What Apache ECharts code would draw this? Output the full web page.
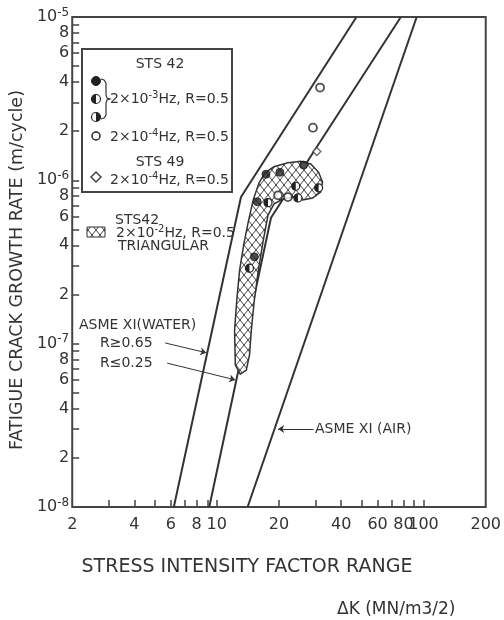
<!DOCTYPE html>
<html>
<head>
<meta charset="utf-8">
<script src="https://cdn.jsdelivr.net/npm/echarts@6/dist/echarts.min.js"></script>
<style>
html,body{margin:0;padding:0;background:#fff;}
#main{width:504px;height:620px;}
</style>
</head>
<body>
<div id="main"></div>
<script>
// axis ticks / labels (dK in MN/m^3/2, da/dN in m/cycle)
var xTicks = [3, 4, 5, 6, 7, 8, 9, 10, 20, 30, 40, 50, 60, 70, 80, 90, 100];
var xLabels = [2, 4, 6, 8, 10, 20, 40, 60, 80, 100, 200];
var yTicks = [2e-8, 3e-8, 4e-8, 5e-8, 6e-8, 7e-8, 8e-8, 9e-8, 1e-7,
              2e-7, 3e-7, 4e-7, 5e-7, 6e-7, 7e-7, 8e-7, 9e-7, 1e-6,
              2e-6, 3e-6, 4e-6, 5e-6, 6e-6, 7e-6, 8e-6, 9e-6];
var yLabels = [1e-8, 2e-8, 4e-8, 6e-8, 8e-8, 1e-7, 2e-7, 4e-7, 6e-7, 8e-7,
               1e-6, 2e-6, 4e-6, 6e-6, 8e-6, 1e-5];

// ASME XI reference curves
var asmeWaterHigh = [[6.2, 1e-8], [13.1, 7.9e-7], [47.4, 1e-5]];   // R >= 0.65
var asmeWaterLow = [[9.2, 1e-8], [18.3, 5.9e-7], [77.7, 1e-5]];    // R <= 0.25
var asmeAir = [[14.1, 1e-8], [92.7, 1e-5]];

// STS42 2x10^-2 Hz triangular scatter band (outline)
var triangularBand = [
  [13.0, 6.5e-8], [12.3, 7.4e-8], [12.2, 1.21e-7], [12.5, 1.85e-7], [12.9, 2.82e-7],
  [13.5, 4.02e-7], [14.2, 5.55e-7], [15.0, 7.57e-7], [16.0, 9.63e-7], [17.1, 1.11e-6],
  [18.9, 1.21e-6], [22.1, 1.28e-6], [25.5, 1.31e-6], [28.5, 1.26e-6], [31.1, 1.12e-6],
  [32.5, 9.76e-7], [31.8, 8.48e-7], [29.1, 7.79e-7], [26.0, 7.57e-7], [23.3, 7.9e-7],
  [20.9, 7.68e-7], [18.9, 7.16e-7], [17.7, 6.13e-7], [16.8, 4.31e-7], [15.9, 2.82e-7],
  [15.2, 1.85e-7], [14.7, 1.21e-7], [14.4, 8.52e-8], [13.9, 6.89e-8]
];

// STS42 2x10^-3 Hz
var sts42Filled = [[15.7, 7.4e-7], [17.3, 1.09e-6], [20.2, 1.12e-6], [26.3, 1.24e-6], [15.2, 3.4e-7]];
var sts42Half = [[17.7, 7.3e-7], [24.1, 9.2e-7], [31.1, 9.0e-7], [14.4, 2.9e-7], [24.7, 7.8e-7]];
// STS42 2x10^-4 Hz
var sts42Open = [[31.6, 3.7e-6], [29.2, 2.1e-6], [19.8, 8.1e-7], [22.1, 7.9e-7]];
// STS49 2x10^-4 Hz
var sts49 = [[30.5, 1.5e-6]];

var INK = '#333';
var FONT = 'DejaVu Sans';

function hatchCanvas() {
  var c = document.createElement('canvas');
  c.width = 8; c.height = 10;
  var g = c.getContext('2d');
  g.fillStyle = '#fff';
  g.fillRect(0, 0, 8, 10);
  g.strokeStyle = '#444';
  g.lineWidth = 1;
  g.beginPath();
  g.moveTo(-1, -1.25); g.lineTo(9, 11.25);
  g.moveTo(9, -1.25); g.lineTo(-1, 11.25);
  g.stroke();
  return c;
}
var hatch = {image: hatchCanvas(), repeat: 'repeat'};

function supText(base, exp, tail) {
  return '{n|' + base + '}{s|' + exp + '}{n|' + tail + '}';
}
var legendRich = {
  n: {fontSize: 14, fontFamily: FONT, fill: INK, color: INK},
  s: {fontSize: 10, fontFamily: FONT, fill: INK, color: INK, padding: [0, 0, 7, 0]}
};

var chart = echarts.init(document.getElementById('main'));

var option = {
  animation: false,
  backgroundColor: '#fff',
  grid: {
    left: 69, right: 17, top: 17, bottom: 113,
    show: true, borderColor: '#444', borderWidth: 2
  },
  xAxis: {
    type: 'log', logBase: 10, min: 2, max: 200,
    name: 'STRESS INTENSITY FACTOR RANGE',
    nameLocation: 'middle', nameGap: 51,
    nameTextStyle: {fontSize: 19, fontFamily: FONT, color: INK, padding: [0, 64, 0, 0]},
    axisLine: {show: false},
    splitLine: {show: false},
    axisTick: {inside: true, length: 7, customValues: xTicks, lineStyle: {color: '#444', width: 1.5}},
    axisLabel: {customValues: xLabels, margin: 10, fontSize: 16, fontFamily: FONT, color: INK,
      formatter: function (v) { return String(Math.round(v)); }}
  },
  yAxis: {
    type: 'log', logBase: 10, min: 1e-8, max: 1e-5,
    name: 'FATIGUE CRACK GROWTH RATE (m/cycle)',
    nameLocation: 'middle', nameGap: 46,
    nameTextStyle: {fontSize: 17.5, fontFamily: FONT, color: INK, padding: [0, 16, 0, 0]},
    axisLine: {show: false},
    splitLine: {show: false},
    axisTick: {inside: true, length: 7, customValues: yTicks, lineStyle: {color: '#444', width: 1.5}},
    axisLabel: {
      customValues: yLabels, margin: 3, color: INK,
      formatter: function (v) {
        var e = Math.floor(Math.log10(v) + 1e-9);
        var m = Math.round(v / Math.pow(10, e));
        if (m === 1) return '{b|10}{s|' + e + '}';
        return '{b|' + m + '}';
      },
      rich: {
        b: {fontSize: 16, fontFamily: FONT, color: INK},
        s: {fontSize: 12, fontFamily: FONT, color: INK, padding: [0, 0, 9, 0]}
      }
    }
  },
  series: [
    {
      type: 'line', name: 'water high', data: asmeWaterHigh, symbol: 'none', z: 3,
      lineStyle: {color: '#333', width: 2},
      markLine: {
        silent: true, symbol: ['none', 'arrow'], symbolSize: 6,
        lineStyle: {color: INK, width: 1, type: 'solid'}, label: {show: false},
        data: [[{coord: [5.63, 1.01e-7]}, {coord: [8.9, 8.8e-8]}]]
      }
    },
    {
      type: 'line', name: 'water low', data: asmeWaterLow, symbol: 'none', z: 3,
      lineStyle: {color: '#333', width: 2},
      markLine: {
        silent: true, symbol: ['none', 'arrow'], symbolSize: 6,
        lineStyle: {color: INK, width: 1, type: 'solid'}, label: {show: false},
        data: [[{coord: [5.76, 7.6e-8]}, {coord: [12.3, 6.0e-8]}]]
      }
    },
    {
      type: 'line', name: 'air', data: asmeAir, symbol: 'none', z: 3,
      lineStyle: {color: '#333', width: 2},
      markLine: {
        silent: true, symbol: ['none', 'arrow'], symbolSize: 6,
        lineStyle: {color: INK, width: 1, type: 'solid'}, label: {show: false},
        data: [[{coord: [29.4, 3.0e-8]}, {coord: [19.8, 3.0e-8]}]]
      }
    },
    {
      type: 'custom', name: 'band', data: triangularBand, z: 5,
      renderItem: function (params, api) {
        if (params.dataIndex !== 0) return null;
        var pts = triangularBand.map(function (p) { return api.coord(p); });
        return {type: 'polygon', shape: {points: pts},
          style: {fill: hatch, stroke: '#333', lineWidth: 1.5}};
      }
    },
    {
      type: 'scatter', name: 'STS42 filled', data: sts42Filled, z: 6,
      symbol: 'circle', symbolSize: 8,
      itemStyle: {color: '#222', borderColor: '#222', borderWidth: 1}
    },
    {
      type: 'custom', name: 'STS42 half', data: sts42Half, z: 6,
      renderItem: function (params, api) {
        var p = api.coord([api.value(0), api.value(1)]);
        return {type: 'group', children: [
          {type: 'circle', shape: {cx: p[0], cy: p[1], r: 4}, style: {fill: '#fff', stroke: '#222', lineWidth: 1.2}},
          {type: 'sector', shape: {cx: p[0], cy: p[1], r0: 0, r: 4, startAngle: Math.PI / 2, endAngle: Math.PI * 1.5},
            style: {fill: '#222'}}
        ]};
      }
    },
    {
      type: 'scatter', name: 'STS42 open', data: sts42Open, z: 6,
      symbol: 'circle', symbolSize: 8,
      itemStyle: {color: '#fff', borderColor: '#222', borderWidth: 1.8}
    },
    {
      type: 'scatter', name: 'STS49', data: sts49, z: 6,
      symbol: 'diamond', symbolSize: 8,
      itemStyle: {color: '#fff', borderColor: '#444', borderWidth: 1.3}
    }
  ],
  graphic: [
    // legend box
    {type: 'rect', z: 10, shape: {x: 82, y: 49, width: 150, height: 143},
      style: {fill: '#fff', stroke: '#444', lineWidth: 2}},
    {type: 'text', z: 11, x: 160, y: 64, style: {text: 'STS 42', font: '14px ' + FONT, fill: INK, align: 'center', verticalAlign: 'middle'}},
    {type: 'circle', z: 11, shape: {cx: 96, cy: 81, r: 4.5}, style: {fill: '#222', stroke: '#222'}},
    {type: 'circle', z: 11, shape: {cx: 96, cy: 99, r: 4.5}, style: {fill: '#fff', stroke: '#222', lineWidth: 1.2}},
    {type: 'sector', z: 11, shape: {cx: 96, cy: 99, r0: 0, r: 4.5, startAngle: Math.PI / 2, endAngle: Math.PI * 1.5}, style: {fill: '#222'}},
    {type: 'circle', z: 11, shape: {cx: 96, cy: 117, r: 4.5}, style: {fill: '#fff', stroke: '#222', lineWidth: 1.2}},
    {type: 'sector', z: 11, shape: {cx: 96, cy: 117, r0: 0, r: 4.5, startAngle: -Math.PI / 2, endAngle: Math.PI / 2}, style: {fill: '#222'}},
    {type: 'polyline', z: 11, shape: {points: [[101, 79], [104, 80], [106, 83], [106, 95], [107, 98], [110, 99], [107, 100], [106, 103], [106, 115], [104, 118], [101, 119]]},
      style: {fill: null, stroke: '#333', lineWidth: 1.2}},
    {type: 'text', z: 11, x: 110, y: 99, style: {text: supText('2×10', '-3', 'Hz, R=0.5'), rich: legendRich, verticalAlign: 'middle'}},
    {type: 'circle', z: 11, shape: {cx: 96, cy: 136, r: 4}, style: {fill: '#fff', stroke: '#222', lineWidth: 1.5}},
    {type: 'text', z: 11, x: 110, y: 137, style: {text: supText('2×10', '-4', 'Hz, R=0.5'), rich: legendRich, verticalAlign: 'middle'}},
    {type: 'text', z: 11, x: 160, y: 162, style: {text: 'STS 49', font: '14px ' + FONT, fill: INK, align: 'center', verticalAlign: 'middle'}},
    {type: 'polygon', z: 11, shape: {points: [[96, 172], [101, 177], [96, 182], [91, 177]]}, style: {fill: '#fff', stroke: '#333', lineWidth: 1.3}},
    {type: 'text', z: 11, x: 110, y: 180, style: {text: supText('2×10', '-4', 'Hz, R=0.5'), rich: legendRich, verticalAlign: 'middle'}},

    // triangular wave legend
    {type: 'rect', z: 11, shape: {x: 87, y: 227, width: 18, height: 10}, style: {fill: hatch, stroke: '#333', lineWidth: 1}},
    {type: 'text', z: 11, x: 115, y: 220, style: {text: 'STS42', font: '14px ' + FONT, fill: INK, verticalAlign: 'middle'}},
    {type: 'text', z: 11, x: 116, y: 233, style: {text: supText('2×10', '-2', 'Hz, R=0.5'), rich: legendRich, verticalAlign: 'middle'}},
    {type: 'text', z: 11, x: 118, y: 246, style: {text: 'TRIANGULAR', font: '14px ' + FONT, fill: INK, verticalAlign: 'middle'}},

    // curve annotations
    {type: 'text', z: 11, x: 79, y: 325, style: {text: 'ASME XI(WATER)', font: '14px ' + FONT, fill: INK, verticalAlign: 'middle'}},
    {type: 'text', z: 11, x: 100, y: 343, style: {text: 'R≥0.65', font: '14px ' + FONT, fill: INK, verticalAlign: 'middle'}},
    {type: 'text', z: 11, x: 100, y: 363, style: {text: 'R≤0.25', font: '14px ' + FONT, fill: INK, verticalAlign: 'middle'}},
    {type: 'text', z: 11, x: 315, y: 429, style: {text: 'ASME XI (AIR)', font: '14px ' + FONT, fill: INK, verticalAlign: 'middle'}},

    // unit
    {type: 'text', z: 11, x: 337, y: 610, style: {text: 'ΔK (MN/m3/2)', font: '17px ' + FONT, fill: INK, verticalAlign: 'middle'}}
  ]
};

chart.setOption(option);
</script>
</body>
</html>
